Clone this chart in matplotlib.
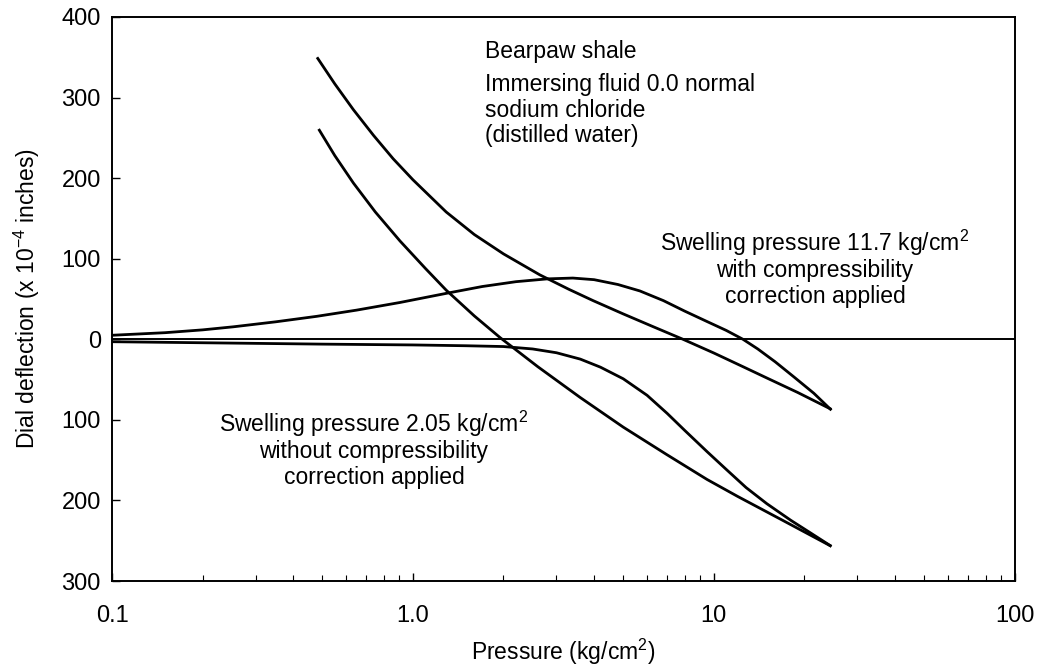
import matplotlib
matplotlib.use("Agg")
import matplotlib.pyplot as plt
from matplotlib.ticker import FixedLocator, FuncFormatter, LogLocator, NullFormatter

plt.rcParams['font.family'] = ['Liberation Sans', 'DejaVu Sans']
plt.rcParams['mathtext.fontset'] = 'custom'
plt.rcParams['mathtext.rm'] = 'Liberation Sans'
plt.rcParams['mathtext.it'] = 'Liberation Sans'
plt.rcParams['mathtext.default'] = 'regular'

# Curve A: upper loading curve (with compressibility correction)
p_a = [0.48, 0.55, 0.634, 0.74, 0.86, 1.0, 1.29, 1.6, 2.0, 2.64, 3.3, 3.97,
       5.0, 6.3, 7.9, 10.0, 12.5, 15.0, 19.0, 24.6]
v_a = [350, 317, 285, 253, 224, 198, 158, 130, 106, 80, 62, 48,
       31.5, 15.5, 0, -17, -34, -48, -66, -87]

# Curve B: lower loading curve (without correction)
p_b = [0.486, 0.55, 0.634, 0.75, 0.906, 1.1, 1.29, 1.6, 1.95, 2.6, 3.59,
       5.0, 6.97, 9.5, 12.0, 17.0, 24.6]
v_b = [261, 228, 194, 158, 122, 88, 61, 29, 2, -34, -72,
       -109, -143, -174, -195, -225, -257]

# Curve C: swelling curve with correction (hump)
p_c = [0.1, 0.15, 0.2, 0.253, 0.35, 0.479, 0.65, 0.906, 1.29, 1.7, 2.2, 2.8,
       3.4, 4.0, 4.8, 5.68, 6.8, 8.0, 9.5, 11.0, 12.5, 14.0, 16.0, 18.5,
       21.5, 24.6]
v_c = [5, 8.2, 11.7, 15.5, 21.7, 28.5, 36.2, 45.7, 57, 65.5, 71.5, 75,
       76, 74, 68, 60, 48, 35, 22, 11, 0, -12, -28, -47, -67, -88]

# Curve D: swelling curve without correction
p_d = [0.1, 0.5, 1.0, 1.5, 2.0, 2.5, 3.0, 3.6, 4.2, 5.0, 6.0, 7.0, 8.0,
       9.5, 11.0, 12.8, 15.0, 18.0, 21.0, 24.6]
v_d = [-3, -6, -7, -8, -9, -12, -16.7, -24.6, -34.6, -49, -69.5, -92, -113,
       -139.5, -161.5, -184, -204, -224.5, -240.5, -257]

y_ticks = [-300, -200, -100, 0, 100, 200, 300, 400]
x_ticks = [0.1, 1.0, 10, 100]
x_tick_labels = ['0.1', '1.0', '10', '100']

fig = plt.figure(figsize=(10.4, 6.69), dpi=100)
ax = fig.add_axes([0.1077, 0.1315, 0.868, 0.8431])

lw = 2.0
ax.axhline(0, color='black', lw=1.4)
for p, v in [(p_a, v_a), (p_b, v_b), (p_c, v_c), (p_d, v_d)]:
    ax.plot(p, v, color='black', lw=lw, solid_joinstyle='round',
            solid_capstyle='butt')

ax.set_xscale('log')
ax.set_xlim(0.1, 100)
ax.set_ylim(-300, 400)
ax.xaxis.set_major_locator(FixedLocator(x_ticks))
ax.set_xticklabels(x_tick_labels)
ax.xaxis.set_minor_locator(LogLocator(base=10, subs=range(2, 10)))
ax.xaxis.set_minor_formatter(NullFormatter())
ax.yaxis.set_major_locator(FixedLocator(y_ticks))
ax.yaxis.set_major_formatter(FuncFormatter(lambda v, pos: f"{abs(int(v))}"))

ax.tick_params(axis='both', which='major', direction='in', length=6, width=1.0,
               labelsize=17)
ax.tick_params(axis='y', which='major', pad=8)
ax.tick_params(axis='x', which='major', pad=17)
ax.tick_params(axis='x', which='minor', direction='in', length=4, width=0.8)
for s in ax.spines.values():
    s.set_linewidth(1.4)

ax.set_xlabel(r'Pressure (kg/cm$^2$)', fontsize=16.5, labelpad=7)
ax.set_ylabel(r'Dial deflection (x 10$^{-4}$ inches)', fontsize=16.5, labelpad=14)

fs = 16.5


def put(x, y, s, ha='left'):
    fig.text(x / 1040, 1 - y / 669, s, fontsize=fs, ha=ha, va='baseline')


put(485, 58, 'Bearpaw shale')
put(485, 91, 'Immersing fluid 0.0 normal')
put(485, 117, 'sodium chloride')
put(485, 142, '(distilled water)')

put(815, 251, 'Swelling pressure 11.7 kg/cm$^2$', ha='center')
put(815, 277, 'with compressibility', ha='center')
put(815, 303, 'correction applied', ha='center')

put(374, 432, 'Swelling pressure 2.05 kg/cm$^2$', ha='center')
put(374, 458, 'without compressibility', ha='center')
put(374, 484, 'correction applied', ha='center')

fig.savefig('out.png', dpi=100)
